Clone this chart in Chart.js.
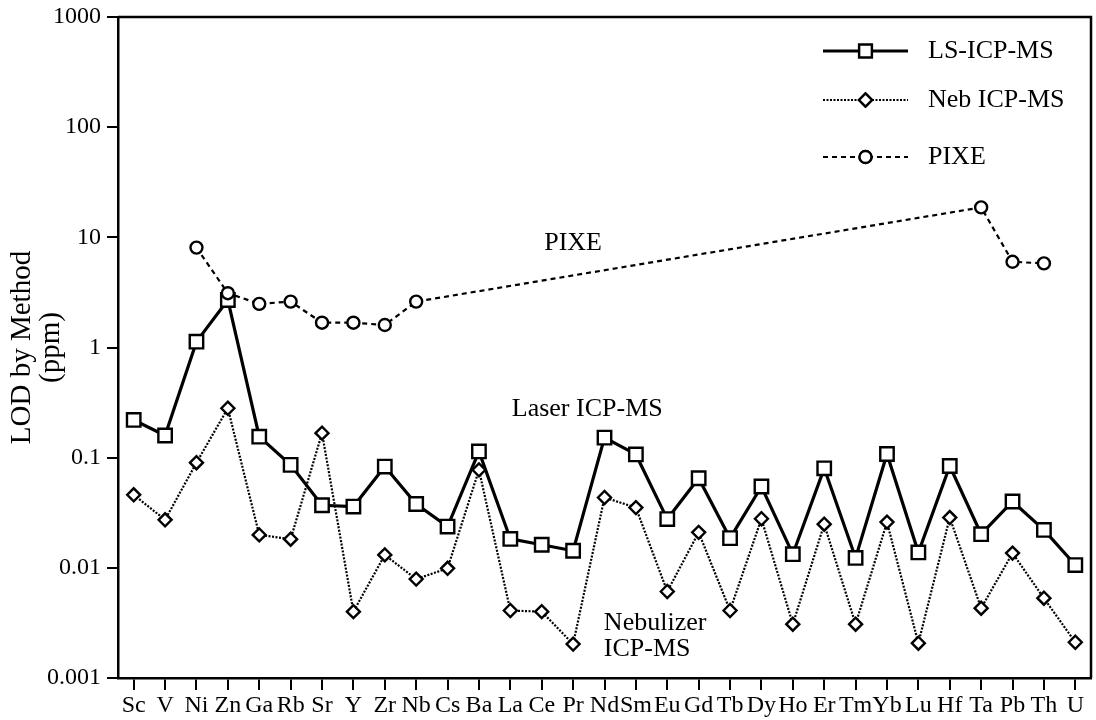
<!DOCTYPE html>
<html>
<head>
<meta charset="utf-8">
<script src="https://cdn.jsdelivr.net/npm/chart.js@4"></script>
<style>
  html, body { margin: 0; padding: 0; background: #fff; overflow: hidden; }
  canvas { display: block; }
</style>
</head>
<body>
<canvas id="lodChart" width="1096" height="720"></canvas>
<script>
// ---- data ----
const elements = ['Sc','V','Ni','Zn','Ga','Rb','Sr','Y','Zr','Nb','Cs','Ba','La','Ce','Pr','Nd','Sm','Eu','Gd','Tb','Dy','Ho','Er','Tm','Yb','Lu','Hf','Ta','Pb','Th','U'];

const lsIcpMs = [0.22, 0.159, 1.13, 2.7, 0.155, 0.086, 0.037, 0.036, 0.083, 0.038, 0.0237, 0.114, 0.0183, 0.0162, 0.0143,
  0.152, 0.107, 0.0277, 0.065, 0.0186, 0.0547, 0.0133, 0.080, 0.0123, 0.108, 0.0138, 0.084, 0.0202, 0.040, 0.0221, 0.0106];

const nebIcpMs = [0.046, 0.0273, 0.090, 0.281, 0.0199, 0.0182, 0.167, 0.0040, 0.0131, 0.0079, 0.0099, 0.0775, 0.0041, 0.0040, 0.00203,
  0.0435, 0.0352, 0.0061, 0.021, 0.0041, 0.0279, 0.00308, 0.0249, 0.00308, 0.026, 0.00207, 0.0286, 0.0043, 0.0136, 0.0053, 0.00211];

const pixe = [null, null, 8.07, 3.11, 2.49, 2.61, 1.68, 1.68, 1.60, 2.61, null, null, null, null, null,
  null, null, null, null, null, null, null, null, null, null, null, null, 18.7, 6.0, 5.8, null];

const yTicks = [0.001, 0.01, 0.1, 1, 10, 100, 1000];
const yTickLabels = ['0.001', '0.01', '0.1', '1', '10', '100', '1000'];

const serif = '"Liberation Serif", "DejaVu Serif", serif';

// ---- frame, legend and in-plot labels ----
const decorPlugin = {
    id: 'decor',
    afterDatasetsDraw(chart) {
        const { ctx, chartArea: a, scales: { x, y } } = chart;
        ctx.save();
        ctx.strokeStyle = '#000';
        ctx.lineWidth = 2.5;
        ctx.beginPath();
        ctx.moveTo(a.left, a.top);
        ctx.lineTo(a.right, a.top);
        ctx.lineTo(a.right, a.bottom);
        ctx.stroke();

        ctx.fillStyle = '#000';
        ctx.font = '26px ' + serif;
        ctx.textBaseline = 'middle';

        // annotations
        ctx.textAlign = 'center';
        ctx.fillText('PIXE', x.getPixelForValue(14), y.getPixelForValue(8.9));
        ctx.fillText('Laser ICP-MS', x.getPixelForValue(14.45), y.getPixelForValue(0.277));
        ctx.textAlign = 'left';
        ctx.fillText('Nebulizer', x.getPixelForValue(14.98), y.getPixelForValue(0.00317));
        ctx.fillText('ICP-MS', x.getPixelForValue(14.98), y.getPixelForValue(0.00184));

        // legend
        const rows = [
            { label: 'LS-ICP-MS', dash: [], width: 3, shape: 'rect', r: 9 },
            { label: 'Neb ICP-MS', dash: [2, 1.5], width: 2.2, shape: 'rectRot', r: 6.5 },
            { label: 'PIXE', dash: [5, 4], width: 2.2, shape: 'circle', r: 6 }
        ];
        const rowY = [a.top + 34, a.top + 83, a.top + 140];
        const x0 = a.right - 268, x1 = a.right - 183, xm = (x0 + x1) / 2;
        rows.forEach((row, i) => {
            const yy = rowY[i];
            ctx.setLineDash(row.dash);
            ctx.lineWidth = row.width;
            ctx.beginPath();
            ctx.moveTo(x0, yy);
            ctx.lineTo(x1, yy);
            ctx.stroke();
            ctx.setLineDash([]);
            ctx.fillStyle = '#fff';
            ctx.lineWidth = 2.4;
            Chart.helpers.drawPoint(ctx, { pointStyle: row.shape, radius: row.r, rotation: 0, borderWidth: 2.4 }, xm, yy);
            ctx.fill();
            ctx.stroke();
            ctx.fillStyle = '#000';
            ctx.textAlign = 'left';
            ctx.fillText(row.label, a.right - 163, yy);
        });
        ctx.restore();
    }
};

const ctx = document.getElementById('lodChart').getContext('2d');

new Chart(ctx, {
    type: 'line',
    data: {
        labels: elements,
        datasets: [
            {
                label: 'PIXE',
                data: pixe,
                borderColor: '#000',
                borderWidth: 2.2,
                borderDash: [5, 4],
                spanGaps: true,
                pointStyle: 'circle',
                pointRadius: 6,
                pointBorderWidth: 2.4,
                pointBackgroundColor: '#fff',
                pointBorderColor: '#000',
                tension: 0
            },
            {
                label: 'Neb ICP-MS',
                data: nebIcpMs,
                borderColor: '#000',
                borderWidth: 2.2,
                borderDash: [2, 1.5],
                pointStyle: 'rectRot',
                pointRadius: 6.5,
                pointBorderWidth: 2.4,
                pointBackgroundColor: '#fff',
                pointBorderColor: '#000',
                tension: 0
            },
            {
                label: 'LS-ICP-MS',
                data: lsIcpMs,
                borderColor: '#000',
                borderWidth: 3.2,
                pointStyle: 'rect',
                pointRadius: 9.5,
                pointBorderWidth: 2.4,
                pointBackgroundColor: '#fff',
                pointBorderColor: '#000',
                tension: 0
            }
        ]
    },
    options: {
        responsive: false,
        animation: false,
        layout: { autoPadding: false, padding: { top: 17, right: 5, left: 0, bottom: 0 } },
        plugins: {
            legend: { display: false },
            tooltip: { enabled: false }
        },
        scales: {
            x: {
                type: 'category',
                offset: true,
                grid: { display: true, drawOnChartArea: false, drawTicks: true, tickLength: 12, color: '#000', lineWidth: 2, offset: false },
                border: { display: true, color: '#000', width: 2.5 },
                ticks: {
                    color: '#000',
                    font: { family: serif, size: 24, lineHeight: 1.1 },
                    autoSkip: false,
                    maxRotation: 0,
                    minRotation: 0,
                    padding: 3
                },
                afterFit(scale) {
                    scale.height = 42;
                    scale.paddingLeft = 0;
                    scale.paddingRight = 0;
                }
            },
            y: {
                type: 'logarithmic',
                min: 0.001,
                max: 1000,
                afterBuildTicks(scale) {
                    scale.ticks = yTicks.map(v => ({ value: v }));
                },
                grid: { display: true, drawOnChartArea: false, drawTicks: true, tickLength: 11, color: '#000', lineWidth: 2 },
                border: { display: true, color: '#000', width: 2.5 },
                ticks: {
                    color: '#000',
                    font: { family: serif, size: 24 },
                    padding: 6,
                    callback: (v) => {
                        const i = yTicks.indexOf(v);
                        return i >= 0 ? yTickLabels[i] : '';
                    }
                },
                title: {
                    display: true,
                    text: ['LOD by Method', '(ppm)'],
                    color: '#000',
                    font: { family: serif, size: 29, lineHeight: 1.03 },
                    padding: { top: 7, bottom: 0 }
                },
                afterFit(scale) {
                    scale.width = 118;
                    scale.paddingTop = 0;
                    scale.paddingBottom = 0;
                }
            }
        }
    },
    plugins: [decorPlugin]
});
</script>
</body>
</html>
